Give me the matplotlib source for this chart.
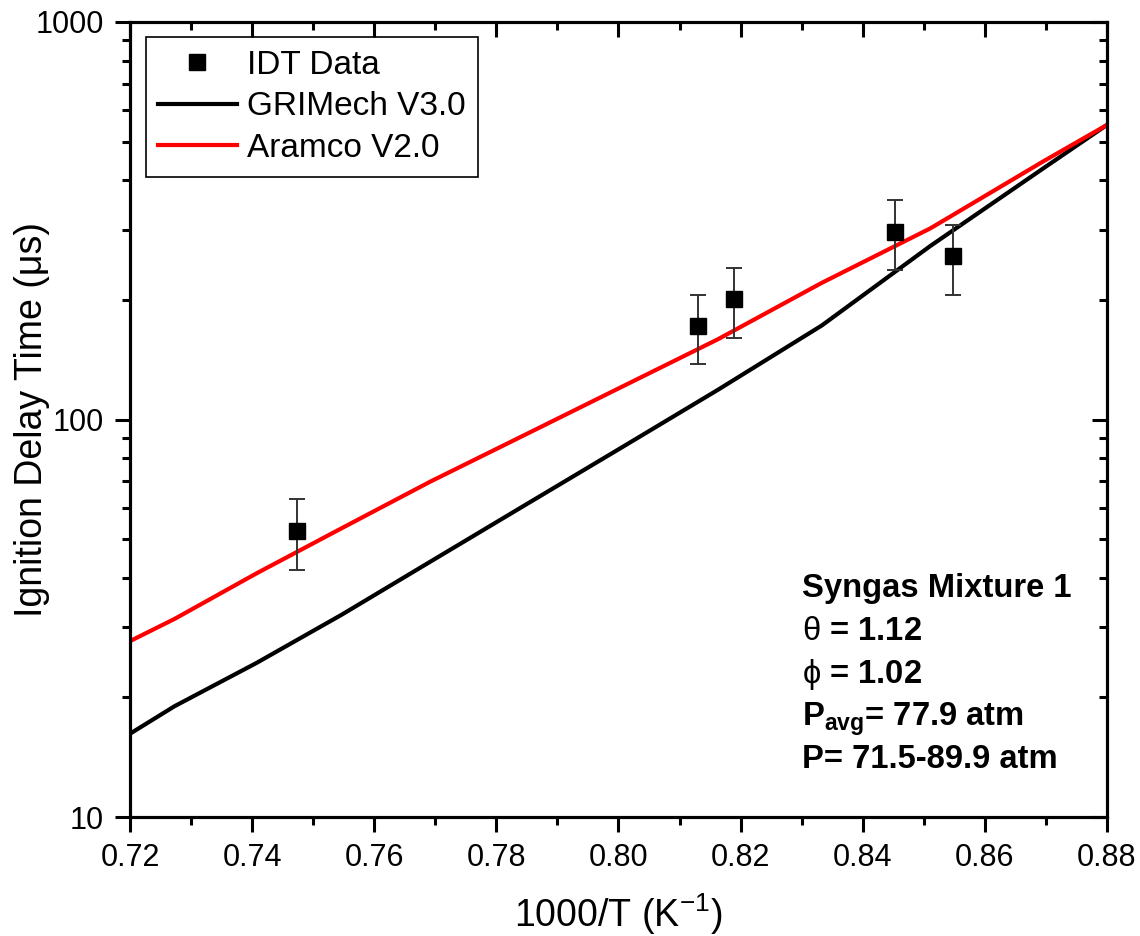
import matplotlib
matplotlib.use("Agg")
import matplotlib.pyplot as plt

# === Data ===
x_exp = [0.7474, 0.8130, 0.8189, 0.8453, 0.8548]
idt_exp = [52.4, 171.9, 200.6, 296.9, 257.6]
idt_err = [10.6, 34.0, 40.0, 59.0, 51.5]

x_sim = [0.72, 0.7273, 0.7407, 0.7547, 0.7692, 0.7843, 0.80,
         0.8163, 0.8333, 0.8511, 0.8696, 0.88]
gri = [16.2, 19.0, 24.4, 32.3, 43.9, 60.4, 84.1,
       118.8, 172.4, 273.4, 428.6, 550.8]
aramco = [27.7, 31.5, 41.0, 53.3, 69.8, 90.9, 119.7,
          159.2, 220.7, 302.7, 446.3, 550.8]

x_ticks = [0.72, 0.74, 0.76, 0.78, 0.80, 0.82, 0.84, 0.86, 0.88]
y_ticks = [10, 100, 1000]

notes = ["Syngas Mixture 1", r"$\mathrm{θ}$ = 1.12", r"$\mathrm{ϕ}$ = 1.02",
         r"P$_{\mathbf{avg}}$= 77.9 atm", "P= 71.5-89.9 atm"]

# === Style ===
plt.rcParams["font.family"] = ["Liberation Sans", "DejaVu Sans"]
plt.rcParams["mathtext.fontset"] = "custom"
plt.rcParams["mathtext.rm"] = "Liberation Sans"
plt.rcParams["mathtext.bf"] = "Liberation Sans:bold"
plt.rcParams["mathtext.it"] = "Liberation Sans:italic"

fig = plt.figure(figsize=(11.4, 9.36), dpi=100)
ax = fig.add_axes([0.114, 0.1271, 0.857, 0.8494])

ax.plot(x_sim, gri, color="black", lw=3.0, label="GRIMech V3.0", zorder=3)
ax.plot(x_sim, aramco, color="#ff0000", lw=3.0, label="Aramco V2.0", zorder=3)
ax.errorbar(x_exp, idt_exp, yerr=idt_err, fmt="none", ecolor="#333333",
            elinewidth=1.4, capsize=6, capthick=1.4, zorder=4)
ax.plot(x_exp, idt_exp, "s", color="black", ms=12, ls="none",
        label="IDT Data", zorder=5)

ax.set_yscale("log")
ax.set_xlim(0.72, 0.88)
ax.set_ylim(10, 1000)
ax.set_xticks(x_ticks)
ax.set_xticklabels([f"{t:.2f}" for t in x_ticks])
ax.set_xticks([t + 0.01 for t in x_ticks[:-1]], minor=True)
ax.set_yticks(y_ticks)
ax.set_yticklabels([str(t) for t in y_ticks])

for s in ax.spines.values():
    s.set_linewidth(2.2)
ax.tick_params(which="major", direction="out", length=11, width=2.2,
               labelsize=22, pad=8)
ax.tick_params(which="minor", direction="out", length=6, width=2.2)

# mirrored ticks pointing inward on top/right
axr = ax.twinx()
axr.set_yscale("log")
axr.set_ylim(10, 1000)
axr.set_yticks(y_ticks)
axr.tick_params(which="major", direction="in", length=11, width=2.2,
                labelright=False)
axr.tick_params(which="minor", direction="in", length=6, width=2.2)
axt = ax.twiny()
axt.set_xlim(0.72, 0.88)
axt.set_xticks(x_ticks)
axt.set_xticks([t + 0.01 for t in x_ticks[:-1]], minor=True)
axt.tick_params(which="major", direction="in", length=11, width=2.2,
                labeltop=False)
axt.tick_params(which="minor", direction="in", length=6, width=2.2)
for a in (axr, axt):
    for s in a.spines.values():
        s.set_linewidth(2.2)

ax.set_xlabel(r"1000/T (K$^{\mathrm{-1}}$)", fontsize=27)
ax.set_ylabel("Ignition Delay Time (μs)", fontsize=27)
ax.xaxis.set_label_coords(0.5, -0.093)
ax.yaxis.set_label_coords(-0.082, 0.5)

handles, labels = ax.get_legend_handles_labels()
order = [2, 0, 1]
leg = ax.legend([handles[i] for i in order], [labels[i] for i in order],
                loc="upper left", bbox_to_anchor=(0.016, 0.981),
                borderaxespad=0, fontsize=24, numpoints=1, handlelength=2.35,
                handletextpad=0.3, labelspacing=0.32, fancybox=False,
                edgecolor="black", framealpha=1, borderpad=0.38)
leg.get_frame().set_linewidth(1.2)

y0 = 0.2767
for i, t in enumerate(notes):
    ax.text(0.688, y0 - i * 0.0538, t, transform=ax.transAxes,
            fontsize=23.6, fontweight="bold", va="baseline", ha="left",
            zorder=6)

fig.savefig("out.png", dpi=100)
